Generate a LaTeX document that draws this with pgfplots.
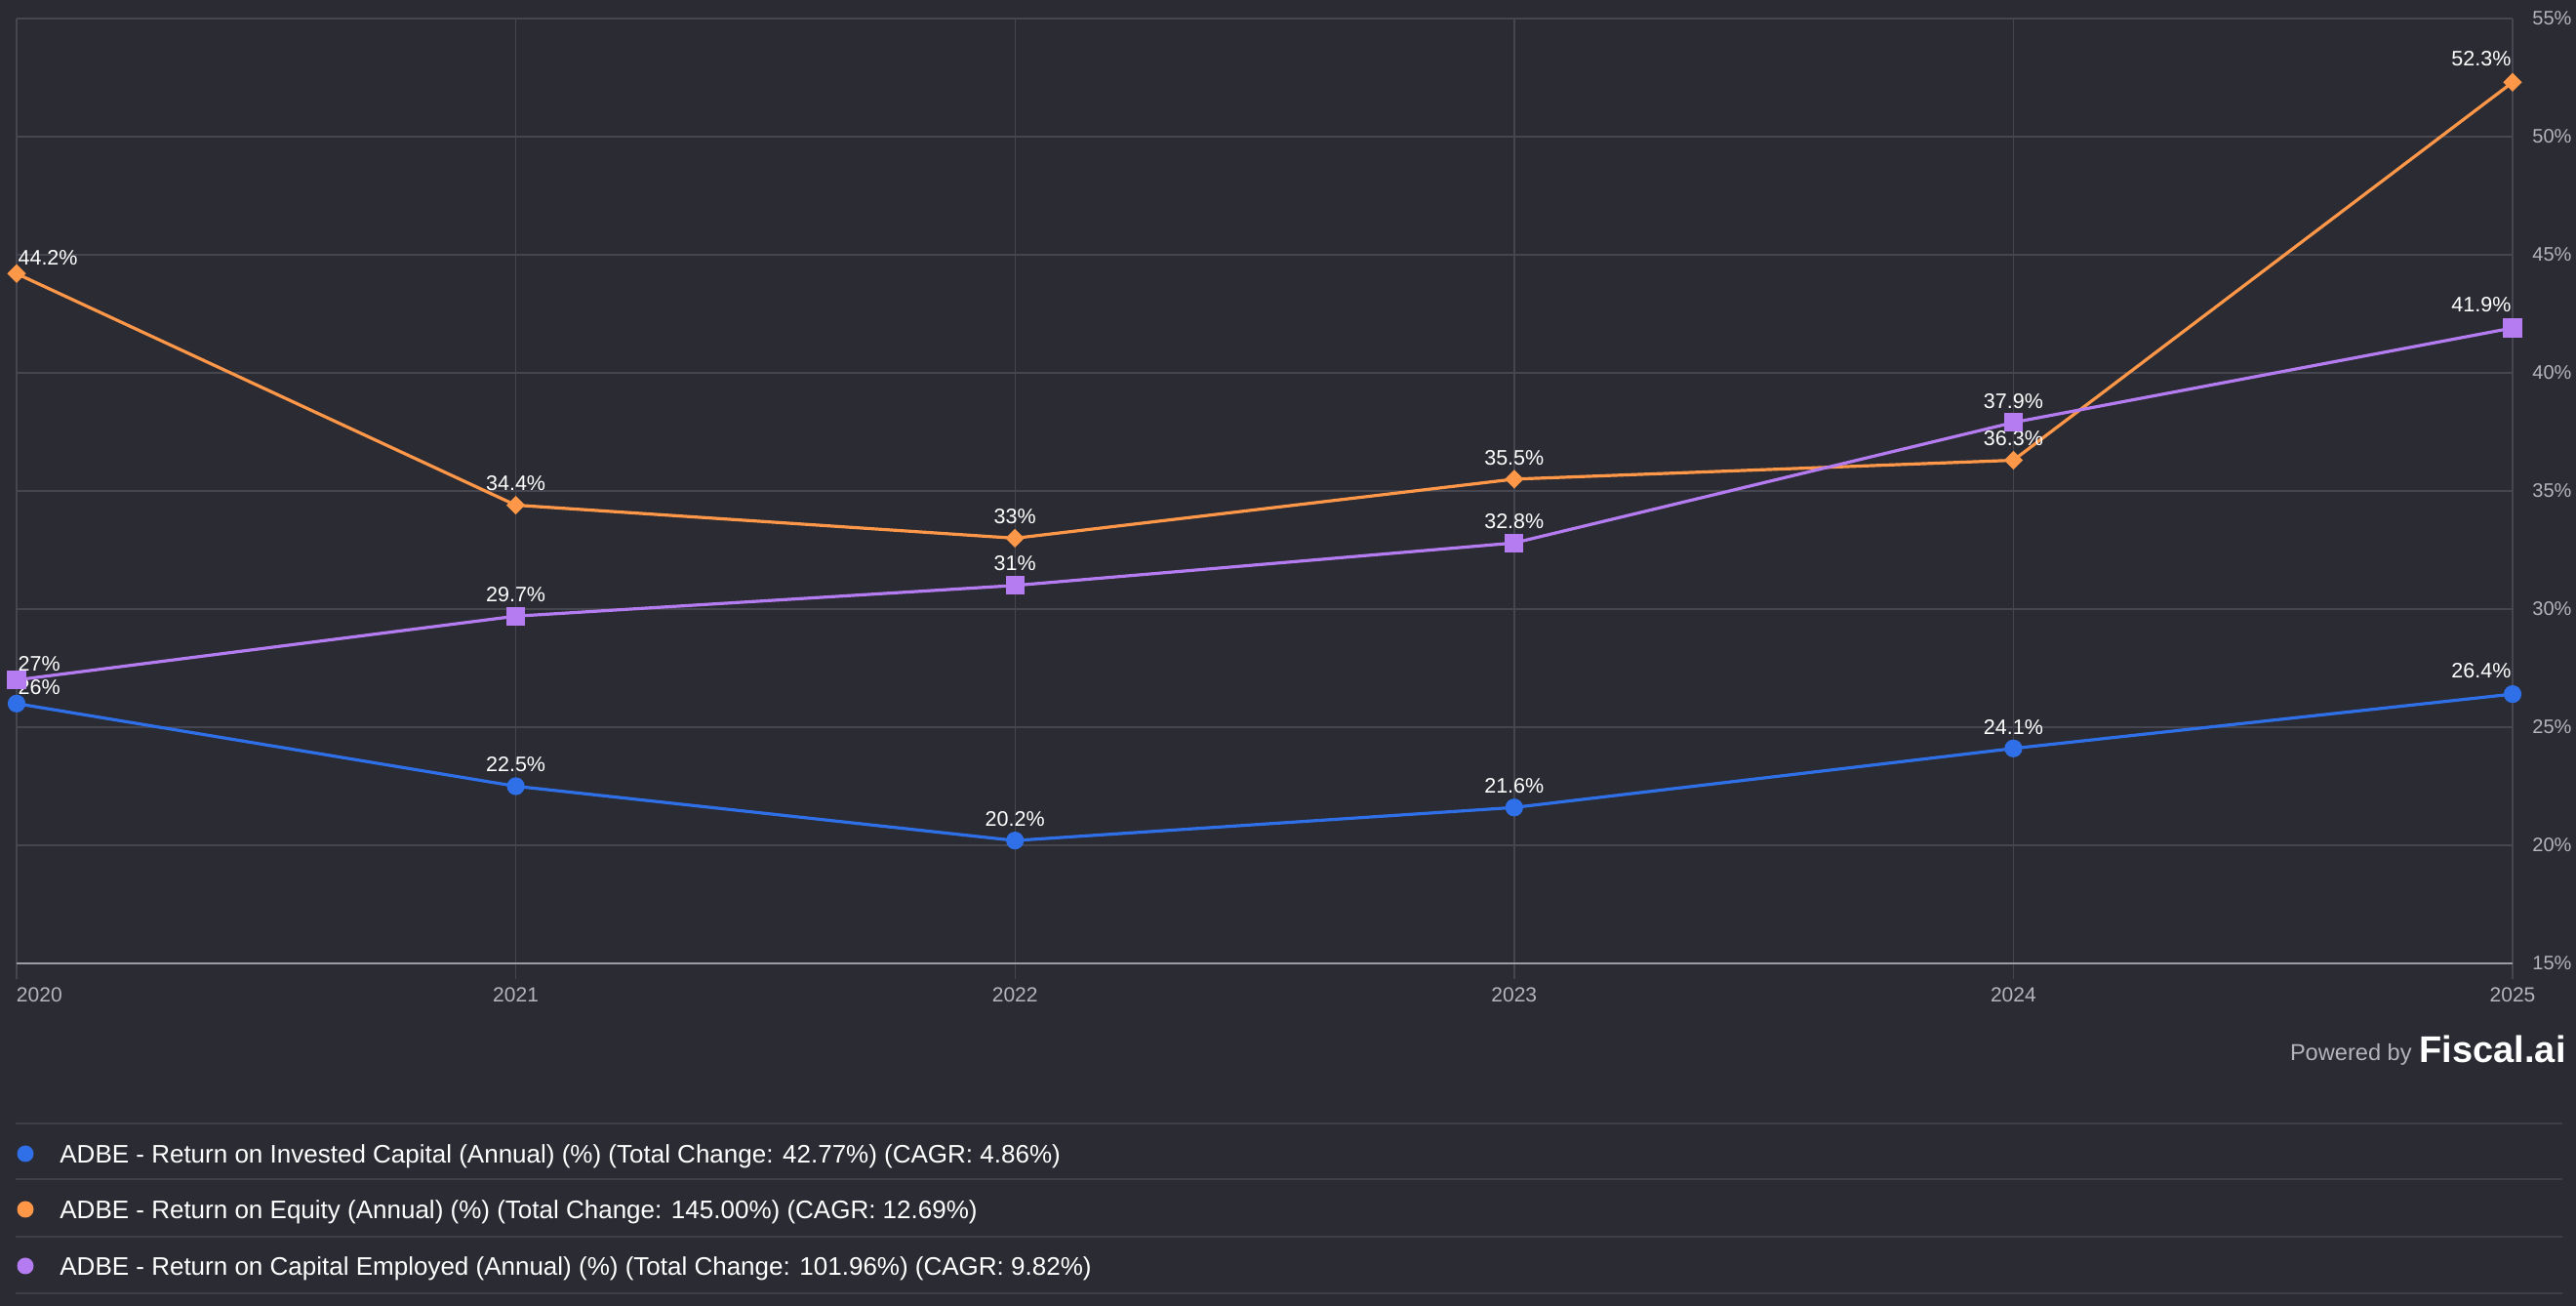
\documentclass[border=0pt]{standalone}
\usepackage{pgfplots}
\usepackage{pgfplotstable}
\pgfplotsset{compat=1.18}
\usepackage{fontspec}
\setmainfont{Liberation Sans}
\definecolor{bg}{HTML}{2A2B33}
\definecolor{gridc}{HTML}{45464F}
\definecolor{axisc}{HTML}{9C9CA4}
\definecolor{tickc}{HTML}{B4B4BC}
\definecolor{roic}{HTML}{2F6FE8}
\definecolor{roe}{HTML}{FF9749}
\definecolor{roce}{HTML}{B47CF0}
\definecolor{sepc}{HTML}{3E3F48}

% ax: 0 = label starts at point, 1 = centred, 2 = label ends at point
\pgfplotstableread{
x y ax dy
2020 26 0 3.5
2021 22.5 1 6.5
2022 20.2 1 6.5
2023 21.6 1 6.5
2024 24.1 1 6.5
2025 26.4 2 7.5
}\roicdata
\pgfplotstableread{
x y ax dy
2020 44.2 0 3.5
2021 34.4 1 6.5
2022 33 1 6.5
2023 35.5 1 6.5
2024 36.3 1 6.5
2025 52.3 2 7.5
}\roedata
\pgfplotstableread{
x y ax dy
2020 27 0 3.5
2021 29.7 1 6.5
2022 31 1 6.5
2023 32.8 1 6.5
2024 37.9 1 6.5
2025 41.9 2 7.5
}\rocedata

\begin{document}
\begin{tikzpicture}
\path[use as bounding box, fill=bg] (0,0) rectangle (1320pt,669pt);
\begin{axis}[
  at={(8.5pt,175.5pt)}, anchor=south west,
  scale only axis, width=1279pt, height=484pt,
  xmin=2020, xmax=2025, ymin=15, ymax=55,
  /pgf/number format/assume math mode=true,
  xtick={2020,2021,2022,2023,2024,2025},
  xticklabels={\makebox[0pt][l]{2020},2021,2022,2023,2024,2025},
  ytick={15,20,25,30,35,40,45,50,55},
  yticklabel={\pgfmathprintnumber{\tick}\%},
  axis x line*=bottom, axis y line*=right,
  x axis line style={-, color=axisc, line width=1pt},
  y axis line style={draw=none},
  xmajorgrids, ymajorgrids,
  grid style={color=gridc, line width=0.7pt},
  xtick align=outside,
  major tick length=8pt,
  xtick style={color=gridc, line width=0.7pt},
  ytick style={draw=none},
  xticklabel style={anchor=north, inner sep=0pt, yshift=-4pt, font=\fontsize{10.5}{12}\selectfont, text=tickc},
  yticklabel style={anchor=west, inner sep=0pt, xshift=10pt, font=\fontsize{10}{12}\selectfont, text=tickc},
  clip=false,
  every axis plot/.append style={line width=1.6pt},
  nodes near coords={\pgfmathprintnumber{\pgfplotspointmeta}\%},
  every node near coord/.append style={
    anchor=\ifdim\ax pt<0.5pt south west\else\ifdim\ax pt>1.5pt south east\else south\fi\fi,
    inner sep=0pt, yshift=\dy pt, font=\fontsize{10.75}{12}\selectfont, text=white},
]
\addplot[roic, mark=*, mark size=3.75pt, mark options={fill=roic, draw=roic},
  visualization depends on={\thisrow{ax}\as\ax},
  visualization depends on={\thisrow{dy}\as\dy}] table[x=x,y=y]{\roicdata};
\addplot[roe, mark=square*, mark size=2.6pt, mark options={rotate=45, fill=roe, draw=roe},
  visualization depends on={\thisrow{ax}\as\ax},
  visualization depends on={\thisrow{dy}\as\dy}] table[x=x,y=y]{\roedata};
\addplot[roce, mark=square*, mark size=4pt, mark options={fill=roce, draw=roce},
  visualization depends on={\thisrow{ax}\as\ax},
  visualization depends on={\thisrow{dy}\as\dy}] table[x=x,y=y]{\rocedata};
\end{axis}

% footer
\node[anchor=base east, inner sep=0pt, text=tickc, font=\fontsize{11.8}{14}\selectfont] at (1236pt,125.5pt) {Powered by};
\node[anchor=base east, inner sep=0pt, text=white, font=\bfseries\fontsize{19}{22}\selectfont] at (1315pt,124.5pt) {Fiscal.ai};

% legend
\foreach \yy in {93.5,65,35.5,6.5} {\draw[sepc, line width=1pt] (8pt,\yy pt) -- (1313pt,\yy pt);}
\fill[roic] (13pt,78pt) circle (4.25pt);
\fill[roe] (13pt,49.5pt) circle (4.25pt);
\fill[roce] (13pt,20.5pt) circle (4.25pt);
\begin{scope}[every node/.style={anchor=base west, inner sep=0pt, text=white, font=\fontsize{13}{15}\selectfont}]
\node at (30.5pt,73.4pt) {ADBE - Return on Invested Capital (Annual) (\%) (Total Change: 42.77\%) (CAGR: 4.86\%)};
\node at (30.5pt,44.9pt) {ADBE - Return on Equity (Annual) (\%) (Total Change: 145.00\%) (CAGR: 12.69\%)};
\node at (30.5pt,15.9pt) {ADBE - Return on Capital Employed (Annual) (\%) (Total Change: 101.96\%) (CAGR: 9.82\%)};
\end{scope}
\end{tikzpicture}
\end{document}
